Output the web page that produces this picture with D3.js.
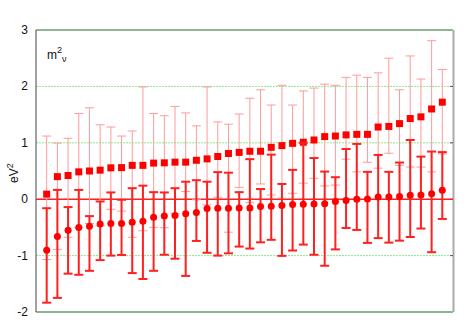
<!DOCTYPE html>
<html>
<head>
<meta charset="utf-8">
<script src="https://cdn.jsdelivr.net/npm/d3@7"></script>
<style>
  body { margin: 0; background: #fff; }
  svg { display: block; font-family: "Liberation Sans", Arial, sans-serif; }
</style>
</head>
<body>
<svg width="474" height="327"></svg>
<script>
// upper series (squares) with thin error bars
let sqVal = [0.09, 0.40, 0.42, 0.485, 0.50, 0.515, 0.556, 0.56, 0.60, 0.60,
             0.64, 0.645, 0.657, 0.657, 0.69, 0.715, 0.757, 0.81, 0.83, 0.85,
             0.85, 0.92, 0.95, 0.99, 1.01, 1.05, 1.11, 1.12, 1.14, 1.15,
             1.15, 1.28, 1.29, 1.34, 1.43, 1.46, 1.60, 1.72];
let sqLo  = [-1.07, -0.89, -0.675, -0.50, -0.43, -0.47, -0.18, -0.21, -0.675, -0.56,
             -0.50, -0.505, -0.255, 0.135, -0.01, -0.10, 0.035, -0.585, 0.21, -0.055,
             0.27, 0.075, 0.02, 0.105, 0.285, 0.37, 0.235, 0.25, 0.71, 0.485,
             0.655, 0.55, 0.815, 0.60, 0.57, 0.57, 0.485, 0.80];
let sqHi  = [1.12, 0.995, 1.08, 1.52, 1.62, 1.32, 1.28, 1.12, 1.21, 1.99,
             1.52, 1.48, 1.645, 1.53, 1.30, 1.99, 1.37, 1.33, 1.51, 1.79,
             1.94, 1.67, 2.02, 1.67, 1.92, 1.97, 2.04, 2.02, 2.16, 2.20,
             2.16, 2.24, 2.50, 1.94, 2.54, 2.13, 2.81, 2.30];
// lower series (circles) with thick error bars
let cVal  = [-0.905, -0.66, -0.55, -0.50, -0.48, -0.44, -0.43, -0.43, -0.41, -0.39,
             -0.32, -0.30, -0.29, -0.26, -0.235, -0.165, -0.16, -0.16, -0.155, -0.155,
             -0.13, -0.125, -0.11, -0.095, -0.09, -0.085, -0.08, -0.04, -0.025, 0.0,
             0.005, 0.04, 0.04, 0.05, 0.07, 0.075, 0.095, 0.16];
let cLo   = [-1.835, -1.75, -1.32, -1.34, -1.27, -1.08, -1.0, -0.99, -1.31, -1.415,
             -1.27, -0.985, -1.055, -1.36, -0.74, -0.95, -1.0, -0.96, -0.84, -0.875,
             -0.765, -0.72, -1.005, -0.91, -0.805, -0.985, -1.18, -0.89, -0.51, -0.545,
             -0.775, -0.69, -0.77, -0.735, -0.67, -0.52, -0.94, -0.35];
let cHi   = [-0.16, 0.165, -0.14, 0.165, -0.30, -0.04, 0.12, -0.01, 0.195, 0.24,
             0.125, 0.12, 0.195, 0.31, 0.337, 0.31, 0.48, 0.47, 0.125, 0.71,
             0.18, 0.79, 0.27, 0.52, 1.0, 0.73, 0.49, 0.39, 0.89, 0.98,
             0.485, 0.785, 0.485, 0.65, 1.05, 0.755, 0.845, 0.835];
let yTicks = [-2, -1, 0, 1, 2, 3];

let svg = d3.select("svg");
let plotL = 36, plotR = 453, plotT = 30, plotB = 312;

let x = d3.scaleLinear().domain([0, sqVal.length + 1]).range([plotL, plotR]);
let y = d3.scaleLinear().domain([-2, 3]).range([plotB, plotT]);

// grid lines
svg.append("g").selectAll("line")
    .data(yTicks.filter(t => t !== 0))
    .enter().append("line")
    .attr("x1", plotL).attr("x2", plotR)
    .attr("y1", d => y(d)).attr("y2", d => y(d))
    .attr("stroke", d => (d === 3 || d === -2) ? "#1f6f1f" : "#8ce88c")
    .attr("stroke-width", 1)
    .attr("stroke-dasharray", d => (d === 3 || d === -2) ? null : "2,1");

// left axis and right border
svg.append("line").attr("x1", plotL).attr("x2", plotL).attr("y1", plotT).attr("y2", plotB)
    .attr("stroke", "#444").attr("stroke-width", 1);
svg.append("line").attr("x1", plotR + 0.5).attr("x2", plotR + 0.5).attr("y1", plotT).attr("y2", plotB)
    .attr("stroke", "#aaa").attr("stroke-width", 2);
svg.append("g").selectAll("line")
    .data([-1, 0, 1, 2])
    .enter().append("line")
    .attr("x1", plotR - 3).attr("x2", plotR)
    .attr("y1", d => y(d)).attr("y2", d => y(d))
    .attr("stroke", "#555");

// tick labels
svg.append("g").selectAll("text")
    .data(yTicks)
    .enter().append("text")
    .attr("x", 28).attr("y", d => y(d) + 4)
    .attr("text-anchor", "end")
    .attr("font-size", 12)
    .attr("fill", "#111")
    .text(d => d);

// y label
let yl = svg.append("text")
    .attr("transform", "translate(18," + 183 + ") rotate(-90)")
    .attr("font-size", 12).attr("fill", "#111");
yl.append("tspan").text("eV");
yl.append("tspan").attr("dy", -5).attr("font-size", 9).text("2");

// key text
let key = svg.append("text").attr("x", 47).attr("y", 59)
    .attr("font-size", 12).attr("fill", "#111");
key.append("tspan").text("m");
key.append("tspan").attr("dy", -6).attr("font-size", 9).text("2");
key.append("tspan").attr("dy", 9).attr("font-size", 9).text("ν");

let idx = d3.range(sqVal.length);
let capW = 4.5;

function errBars(g, lo, hi, color, width) {
    let e = g.selectAll("g").data(idx).enter().append("g");
    e.append("line")
        .attr("x1", i => x(i + 1)).attr("x2", i => x(i + 1))
        .attr("y1", i => y(lo[i])).attr("y2", i => y(hi[i]));
    e.append("line")
        .attr("x1", i => x(i + 1) - capW).attr("x2", i => x(i + 1) + capW)
        .attr("y1", i => y(lo[i])).attr("y2", i => y(lo[i]));
    e.append("line")
        .attr("x1", i => x(i + 1) - capW).attr("x2", i => x(i + 1) + capW)
        .attr("y1", i => y(hi[i])).attr("y2", i => y(hi[i]));
    e.selectAll("line").attr("stroke", color).attr("stroke-width", width);
}

// zero line
svg.append("line").attr("x1", plotL).attr("x2", plotR)
    .attr("y1", y(0)).attr("y2", y(0))
    .attr("stroke", "#ff2020").attr("stroke-width", 1.5);

errBars(svg.append("g"), sqLo, sqHi, "#ff9a9a", 1);

svg.append("g").selectAll("rect")
    .data(idx)
    .enter().append("rect")
    .attr("x", i => x(i + 1) - 3.5)
    .attr("y", i => y(sqVal[i]) - 3.5)
    .attr("width", 7).attr("height", 7)
    .attr("fill", "#ff0000");

errBars(svg.append("g"), cLo, cHi, "#ff2020", 2);

svg.append("g").selectAll("circle")
    .data(idx)
    .enter().append("circle")
    .attr("cx", i => x(i + 1))
    .attr("cy", i => y(cVal[i]))
    .attr("r", 3.5)
    .attr("fill", "#ff0000");
</script>
</body>
</html>
